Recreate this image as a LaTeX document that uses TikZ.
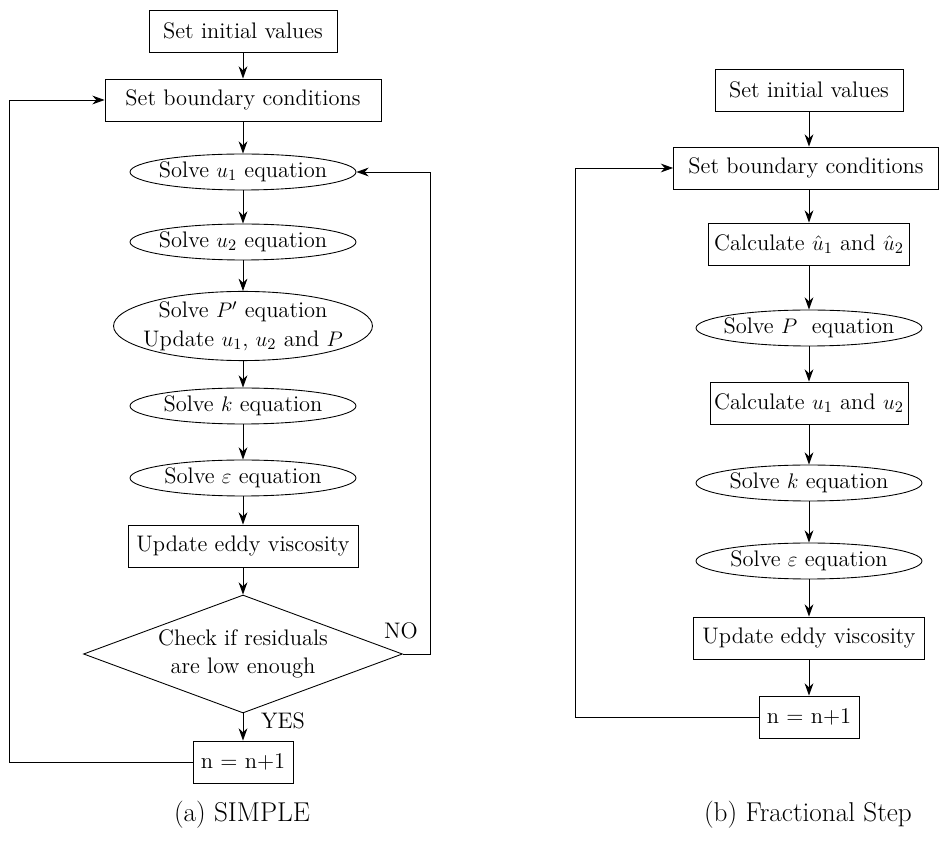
\documentclass[tikz,border=0pt]{standalone}
\usepackage{amsmath}
\usepackage{tikz}
\usetikzlibrary{positioning, shapes.geometric, arrows.meta, calc}

\begin{document}
\begin{tikzpicture}[x=0.02cm, y=-0.02cm, line width=0.5pt,
    every node/.style={font=\fontsize{12.8}{16}\selectfont},
    box/.style={draw, rectangle, minimum height=0.84cm, inner sep=2pt},
    solve/.style={draw, ellipse, minimum width=4.52cm, minimum height=0.72cm, inner xsep=-6pt, inner ysep=0pt},
    check/.style={draw, diamond, aspect=2.7, minimum width=6.38cm, minimum height=2.36cm, inner sep=1pt, align=center},
    caption/.style={font=\fontsize{15.5}{18}\selectfont},
    arr/.style={-{Stealth[length=7pt, width=5pt]}}]
        \useasboundingbox (0,0) rectangle (941,844);

        % SIMPLE
        \node[box, minimum width=3.76cm] (iv1) at (243,31) {Set initial values};
        \node[box, minimum width=5.52cm] (bc1) at (243,100) {Set boundary conditions};
        \node[solve] (u1) at (243,172) {Solve $u_1$ equation};
        \node[solve] (u2) at (243,242) {Solve $u_2$ equation};
        \node[solve, minimum width=5.18cm, minimum height=1.36cm, align=center] (pc1) at (243,326) {Solve $P'$ equation\\Update $u_1$, $u_2$ and $P$};
        \node[solve] (k1) at (243,406) {Solve $k$ equation};
        \node[solve] (e1) at (243,478) {Solve $\varepsilon$ equation};
        \node[box, minimum width=4.6cm] (ev1) at (243,546) {Update eddy viscosity};
        \node[check] (chk) at (243,654) {Check if residuals\\are low enough};
        \node[box, minimum width=2cm] (n1) at (243,762) {n = n+1};

        \foreach \a/\b in {iv1/bc1, bc1/u1, u1/u2, u2/pc1, pc1/k1, k1/e1, e1/ev1, ev1/chk, chk/n1}
          \draw[arr] (\a) -- (\b);

        % Loops back
        \coordinate (backa) at (9,0);
        \coordinate (backb) at (430,0);
        \draw[arr] (n1.west) -- (n1.west -| backa) |- (bc1.west);
        \draw[arr] (chk.east) -- (chk.east -| backb) |- (u1.east);

        \node (no) at (401,631) {NO};
        \node (yes) at (283,721) {YES};

        % Fractional step
        \node[box, minimum width=3.76cm] (iv2) at (809,90) {Set initial values};
        \node[box, minimum width=5.3cm] (bc2) at (806,168) {Set boundary conditions};
        \node[box, minimum width=4.02cm] (uh2) at (809,244) {Calculate $\hat{u}_1$ and $\hat{u}_2$};
        \node[solve] (p2) at (809,328) {Solve $P$ \ equation};
        \node[box, minimum width=3.96cm] (uc2) at (809,403) {Calculate $u_1$ and $u_2$};
        \node[solve] (k2) at (809,483) {Solve $k$ equation};
        \node[solve] (e2) at (809,561) {Solve $\varepsilon$ equation};
        \node[box, minimum width=4.62cm] (ev2) at (809,638) {Update eddy viscosity};
        \node[box, minimum width=2cm] (n2) at (809,717) {n = n+1};

        \draw[arr] (iv2) -- (iv2 |- bc2.north);
        \draw[arr] (bc2.south -| uh2) -- (uh2);
        \foreach \a/\b in {uh2/p2, p2/uc2, uc2/k2, k2/e2, e2/ev2, ev2/n2}
          \draw[arr] (\a) -- (\b);

        \coordinate (backc) at (575,0);
        \draw[arr] (n2.west) -- (n2.west -| backc) |- (bc2.west);

        % Captions
        \node[caption] (capa) at (242,815) {(a) SIMPLE};
        \node[caption] (capb) at (808,815) {(b) Fractional Step};
      \end{tikzpicture}
\end{document}
